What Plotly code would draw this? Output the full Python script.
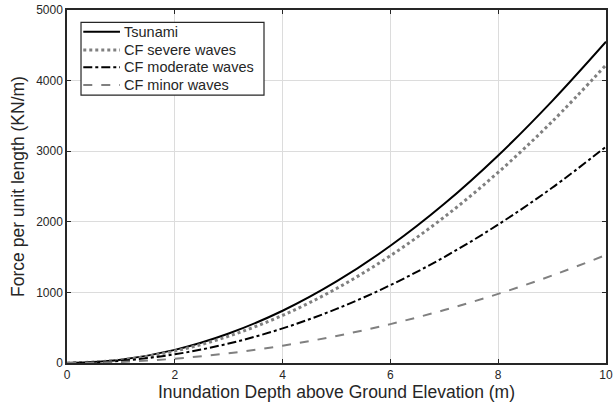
import plotly.graph_objects as go

depth = [0, 1, 2, 3, 4, 5, 6, 7, 8, 9, 10]
tsunami = [0, 47, 186, 418, 740, 1155, 1660, 2255, 2940, 3710, 4551]
cf_severe = [0, 42, 169, 380, 675, 1055, 1520, 2068, 2701, 3419, 4221]
cf_moderate = [0, 31, 123, 276, 490, 766, 1103, 1501, 1961, 2482, 3064]
cf_minor = [0, 15, 61, 138, 245, 383, 551, 750, 979, 1239, 1530]

series_names = ["Tsunami", "CF severe waves", "CF moderate waves", "CF minor waves"]
series_values = [tsunami, cf_severe, cf_moderate, cf_minor]
styles = [("black", "solid", 2), ("#808080", "dot", 3), ("black", "dashdot", 2), ("#808080", "dash", 2)]

fig = go.Figure()
for name, vals, (color, dash, w) in zip(series_names, series_values, styles):
    fig.add_trace(go.Scatter(x=depth, y=vals, mode="lines", name=name, showlegend=False,
                             line=dict(color=color, dash=dash, width=w, shape="spline")))

# Manual legend box (MATLAB-style compact legend)
box = dict(x0=0.026, x1=0.3655, y0=0.759, y1=0.9652)
fig.add_shape(type="rect", xref="x domain", yref="y domain", **box,
              line=dict(color="#262626", width=1.2), fillcolor="white", layer="above")
row_y = [0.9385, 0.8867, 0.8377, 0.7875]
for name, (color, dash, w), ry in zip(series_names, styles, row_y):
    fig.add_shape(type="line", xref="x domain", yref="y domain", x0=0.0302, x1=0.0983,
                  y0=ry, y1=ry, line=dict(color=color, dash=dash, width=w), layer="above")
    fig.add_annotation(xref="x domain", yref="y domain", x=0.1015, y=ry, text=name,
                       showarrow=False, xanchor="left", yanchor="middle",
                       font=dict(size=14.5, color="#262626", family="Liberation Sans, Arial"))

axis_common = dict(showline=True, linecolor="#262626", linewidth=1.5, mirror="ticks",
                   ticks="inside", ticklen=4, tickcolor="#262626", automargin=False,
                   ticklabeloverflow="allow",
                   showgrid=True, gridcolor="#dcdcdc", gridwidth=1, zeroline=False,
                   tickfont=dict(family="Liberation Sans, Arial", size=12, color="#262626"))

fig.update_layout(
    width=613, height=412,
    margin=dict(l=67, r=7, t=10, b=49),
    plot_bgcolor="white", paper_bgcolor="white",
    font=dict(family="Liberation Sans, Arial", color="#262626"),
    xaxis=dict(range=[0, 10], tickvals=[0, 2, 4, 6, 8, 10],
               title=dict(text="Inundation Depth above Ground Elevation (m)", font=dict(size=17.5), standoff=2),
               **axis_common),
    yaxis=dict(range=[0, 5000], tickvals=[0, 1000, 2000, 3000, 4000, 5000],
               title=dict(text="Force per unit length (KN/m)", font=dict(size=17.5), standoff=7),
               **axis_common),
    showlegend=False,
)

fig.write_html("out.html", config={"displayModeBar": False},
               post_script="document.body.style.margin='0';document.body.style.overflow='hidden';")
